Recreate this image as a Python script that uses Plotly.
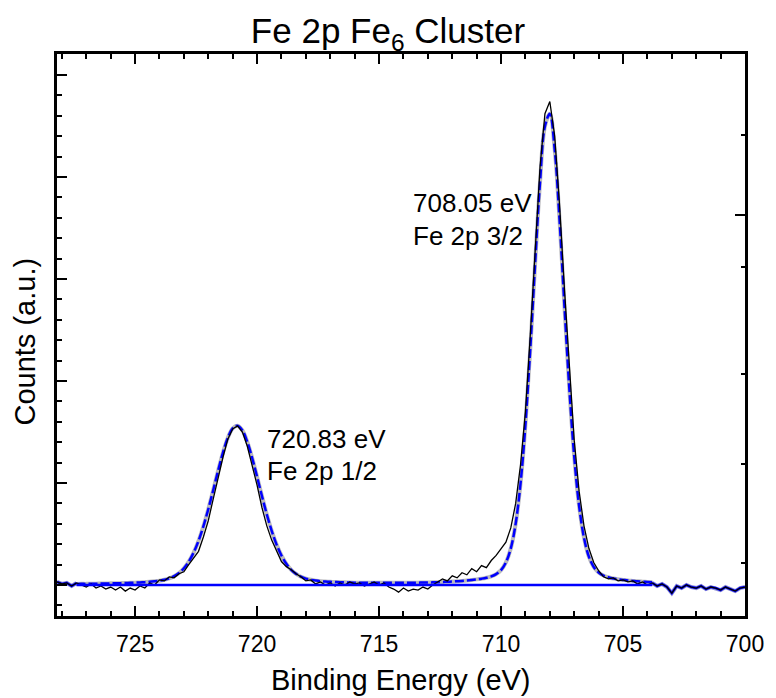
import plotly.graph_objects as go

# ---------------- data ----------------
energy = [
    728.2, 728.0, 727.8, 727.6, 727.4, 727.2, 727.0, 726.8, 726.6, 726.4,
    726.2, 726.0, 725.8, 725.6, 725.4, 725.2, 725.0, 724.8, 724.6, 724.4,
    724.2, 724.0, 723.8, 723.6, 723.4, 723.2, 723.0, 722.8, 722.6, 722.4,
    722.2, 722.0, 721.8, 721.6, 721.4, 721.2, 721.0, 720.8, 720.6, 720.4,
    720.2, 720.0, 719.8, 719.6, 719.4, 719.2, 719.0, 718.8, 718.6, 718.4,
    718.2, 718.0, 717.8, 717.6, 717.4, 717.2, 717.0, 716.8, 716.6, 716.4,
    716.2, 716.0, 715.8, 715.6, 715.4, 715.2, 715.0, 714.8, 714.6, 714.4,
    714.2, 714.0, 713.8, 713.6, 713.4, 713.2, 713.0, 712.8, 712.6, 712.4,
    712.2, 712.0, 711.8, 711.6, 711.4, 711.2, 711.0, 710.8, 710.6, 710.4,
    710.2, 710.0, 709.8, 709.6, 709.4, 709.2, 709.0, 708.8, 708.6, 708.4,
    708.2, 708.0, 707.8, 707.6, 707.4, 707.2, 707.0, 706.8, 706.6, 706.4,
    706.2, 706.0, 705.8, 705.6, 705.4, 705.2, 705.0, 704.8, 704.6, 704.4,
    704.2, 704.0, 703.8, 703.6, 703.4, 703.2, 703.0, 702.8, 702.6, 702.4,
    702.2, 702.0, 701.8, 701.6, 701.4, 701.2, 701.0, 700.8, 700.6, 700.4,
    700.2, 700.0,
]

counts = [
    0.03, 0.01, 0.02, -0.01, 0.02, 0.00, -0.02, 0.01, -0.03, -0.01,
    -0.04, -0.02, -0.05, -0.02, -0.06, -0.03, -0.05, -0.01, -0.03, 0.02,
    0.00, 0.05, 0.04, 0.08, 0.07, 0.11, 0.13, 0.20, 0.26, 0.33,
    0.47, 0.63, 0.84, 1.05, 1.25, 1.43, 1.53, 1.56, 1.50, 1.36,
    1.18, 0.98, 0.76, 0.58, 0.44, 0.33, 0.23, 0.18, 0.15, 0.11,
    0.08, 0.04, 0.05, 0.01, 0.03, 0.00, 0.02, -0.01, 0.02, 0.00,
    0.03, 0.01, 0.02, -0.01, 0.01, 0.03, 0.00, 0.02, -0.02, -0.04,
    -0.07, -0.03, -0.06, -0.04, -0.05, -0.02, -0.04, 0.00, 0.03, 0.06,
    0.04, 0.09, 0.07, 0.12, 0.10, 0.16, 0.13, 0.19, 0.17, 0.24,
    0.29, 0.36, 0.42, 0.56, 0.80, 1.18, 1.70, 2.45, 3.30, 4.10,
    4.62, 4.74, 4.40, 3.72, 2.90, 2.10, 1.42, 0.92, 0.58, 0.36,
    0.22, 0.14, 0.08, 0.06, 0.07, 0.04, 0.05, 0.03, 0.04, 0.01,
    0.03, 0.00, 0.02, -0.01, 0.01, -0.02, -0.08, -0.01, -0.03, 0.00,
    -0.02, -0.03, -0.01, -0.04, -0.02, -0.03, -0.05, -0.02, -0.04, -0.06,
    -0.03, -0.02,
]

# fitted envelope, from 727.4 eV down to 703.8 eV (same grid as energy)
fit_start, fit_stop = 4, 123
fit_counts = [
    0.010, 0.011, 0.011, 0.012, 0.013, 0.014, 0.015, 0.016, 0.017, 0.018,
    0.020, 0.021, 0.023, 0.025, 0.028, 0.031, 0.036, 0.042, 0.051, 0.065,
    0.086, 0.117, 0.164, 0.229, 0.317, 0.432, 0.575, 0.743, 0.927, 1.117,
    1.296, 1.442, 1.536, 1.562, 1.515, 1.403, 1.245, 1.062, 0.872, 0.691,
    0.531, 0.396, 0.289, 0.208, 0.149, 0.109, 0.081, 0.063, 0.051, 0.043,
    0.037, 0.034, 0.031, 0.029, 0.027, 0.026, 0.024, 0.023, 0.023, 0.022,
    0.021, 0.021, 0.021, 0.021, 0.021, 0.021, 0.021, 0.021, 0.022, 0.022,
    0.023, 0.024, 0.025, 0.026, 0.028, 0.030, 0.032, 0.034, 0.037, 0.040,
    0.044, 0.049, 0.055, 0.062, 0.071, 0.085, 0.107, 0.146, 0.221, 0.359,
    0.602, 0.997, 1.573, 2.319, 3.161, 3.953, 4.498, 4.619, 4.268, 3.574,
    2.735, 1.926, 1.260, 0.777, 0.464, 0.278, 0.177, 0.123, 0.093, 0.076,
    0.064, 0.056, 0.050, 0.044, 0.040, 0.036, 0.033, 0.030, 0.027,
]

baseline_energy = [727.4, 703.8]
baseline_counts = [0.0, 0.0]

x_ticks = [725, 720, 715, 710, 705, 700]
right_major_ticks = [3.63]
right_minor_ticks = [4.41, 3.12, 2.07, 1.19, 0.22]

labels = [
    ("708.05 eV", 713.68, 3.75),
    ("Fe 2p 3/2", 713.68, 3.42),
    ("720.83 eV", 719.68, 1.43),
    ("Fe 2p 1/2", 719.68, 1.12),
]

# ---------------- figure ----------------
FONT = "Arial, 'Liberation Sans', sans-serif"
BLUE = "rgb(0,0,255)"
Y_RANGE = [-0.304, 5.206]

fit_energy = energy[fit_start:fit_stop]
assert len(fit_energy) == len(fit_counts)
assert len(energy) == len(counts)

fig = go.Figure()

# grey cumulative fit underneath
fig.add_trace(go.Scatter(x=fit_energy, y=fit_counts, mode="lines",
                         line=dict(color="rgb(185,185,190)", width=4, shape="spline"),
                         hoverinfo="skip"))
# blue dashed fit
fig.add_trace(go.Scatter(x=fit_energy, y=fit_counts, mode="lines",
                         line=dict(color=BLUE, width=2.5, dash="9px,3px", shape="spline"),
                         hoverinfo="skip"))
# blue baseline (on right axis which shares the same range)
fig.add_trace(go.Scatter(x=baseline_energy, y=baseline_counts, mode="lines",
                         line=dict(color=BLUE, width=2.5), yaxis="y2", hoverinfo="skip"))
# blue outside the fit region follows the data
for sl in (slice(0, fit_start + 1), slice(fit_stop - 1, len(energy))):
    fig.add_trace(go.Scatter(x=energy[sl], y=counts[sl], mode="lines",
                             line=dict(color="rgb(150,150,210)", width=4), hoverinfo="skip"))
    fig.add_trace(go.Scatter(x=energy[sl], y=counts[sl], mode="lines",
                             line=dict(color=BLUE, width=2.5), hoverinfo="skip"))
# experimental data
fig.add_trace(go.Scatter(x=energy, y=counts, mode="lines",
                         line=dict(color="black", width=1.3)))

annotations = []
for text, ex, cy in labels:
    annotations.append(dict(text=text, x=ex, y=cy, xref="x", yref="y",
                            xanchor="left", yanchor="middle", showarrow=False,
                            font=dict(family=FONT, size=26, color="black")))
annotations.append(dict(text="Binding Energy (eV)", x=0.5, y=-0.114, xref="paper", yref="paper",
                        xanchor="center", yanchor="middle", showarrow=False,
                        font=dict(family=FONT, size=29, color="black")))
annotations.append(dict(text="Counts (a.u.)", x=-0.046, y=0.489, xref="paper", yref="paper",
                        xanchor="center", yanchor="middle", showarrow=False, textangle=-90,
                        font=dict(family=FONT, size=29, color="black")))

fig.update_layout(
    width=776, height=698,
    margin=dict(l=57, r=23, t=54, b=82),
    paper_bgcolor="white", plot_bgcolor="white",
    showlegend=False,
    font=dict(family=FONT, color="black"),
    title=dict(text="Fe 2p Fe<sub>6</sub> Cluster", x=0.5, xref="container", xanchor="center",
               y=1 - 31 / 698, yref="container", yanchor="middle",
               font=dict(family=FONT, size=35, color="black")),
    xaxis=dict(range=[728.2, 700], showline=True, linecolor="black", linewidth=2.5,
               mirror="ticks", ticks="inside", tickmode="linear", tick0=700, dtick=5,
               ticklen=10, tickwidth=2, tickcolor="black",
               minor=dict(dtick=1, tick0=700, ticks="inside", ticklen=5, tickwidth=2,
                          tickcolor="black"),
               showgrid=False, zeroline=False, ticklabelstandoff=6,
               tickfont=dict(family=FONT, size=23, color="black")),
    yaxis=dict(range=Y_RANGE, showline=True, linecolor="black", linewidth=2.5,
               mirror=True, ticks="inside", tickmode="linear", tick0=0, dtick=1,
               ticklen=10, tickwidth=2, tickcolor="black", showticklabels=False,
               minor=dict(dtick=0.2, tick0=0, ticks="inside", ticklen=5, tickwidth=2,
                          tickcolor="black"),
               showgrid=False, zeroline=False),
    yaxis2=dict(range=Y_RANGE, overlaying="y", side="right", showline=False,
                ticks="inside", tickmode="array", tickvals=right_major_ticks,
                ticklen=10, tickwidth=2, tickcolor="black", showticklabels=False,
                minor=dict(tickmode="array", tickvals=right_minor_ticks, ticks="inside",
                           ticklen=4, tickwidth=2, tickcolor="black"),
                showgrid=False, zeroline=False),
    annotations=annotations,
)

fig.write_html("out.html")
